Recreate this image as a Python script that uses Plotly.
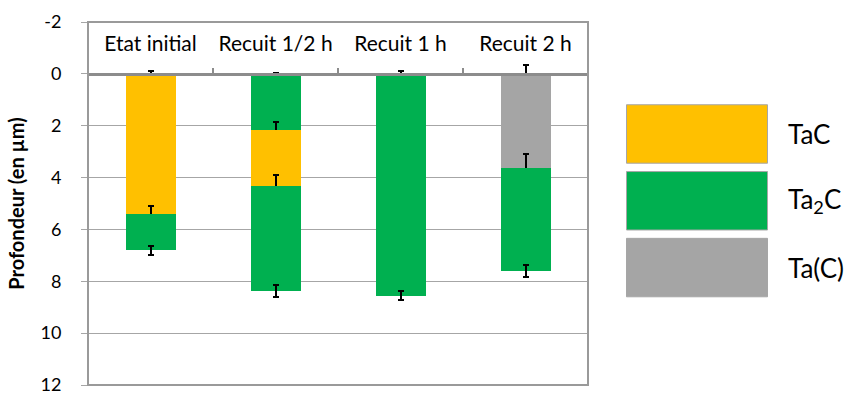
import plotly.graph_objects as go

# Categories (samples) and layer stack, from surface downwards
categories = ["Etat initial", "Recuit 1/2 h", "Recuit 1 h", "Recuit 2 h"]

# thickness of each successive layer (µm); None = no layer
layer1 = [5.40, 2.17, 8.55, 3.64]
layer2 = [1.41, 2.14, None, 3.98]
layer3 = [None, 4.05, None, None]

# phase of each layer
phase1 = ["TaC", "Ta2C", "Ta2C", "Ta(C)"]
phase2 = ["Ta2C", "TaC", None, "Ta2C"]
phase3 = [None, "Ta2C", None, None]

# error on each interface depth (surface first)
err_surface = [0.10, 0.05, 0.12, 0.35]
err1 = [0.31, 0.32, 0.19, 0.54]
err2 = [0.17, 0.40, None, 0.23]
err3 = [None, 0.23, None, None]

# depth axis ticks
depth_ticks = [-2, 0, 2, 4, 6, 8, 10, 12]
depth_labels = ["-2", "0", "2", "4", "6", "8", "10", "12"]

phases = ["TaC", "Ta2C", "Ta(C)"]
phase_labels = ["TaC", "Ta<sub>2</sub>C", "Ta(C)"]
colors = {"TaC": "#FFC000", "Ta2C": "#00B050", "Ta(C)": "#A5A5A5"}

FONT = "Lato, 'Open Sans', sans-serif"

fig = go.Figure()


def add_layer(values, phase, errs):
    fig.add_trace(go.Bar(
        x=categories,
        y=values,
        width=0.4,
        marker=dict(color=[colors.get(p, "rgba(0,0,0,0)") for p in phase],
                    line=dict(width=0)),
        error_y=dict(type="data", array=errs, color="black",
                     thickness=2, width=3, visible=True),
        showlegend=False,
        hoverinfo="skip",
    ))


# zero-thickness trace to carry the error bars at the surface
add_layer([0, 0, 0, 0], [None] * 4, err_surface)
add_layer(layer1, phase1, err1)
add_layer(layer2, phase2, err2)
add_layer(layer3, phase3, err3)

ymin, ymax = depth_ticks[0], depth_ticks[-1]

fig.update_layout(
    width=850, height=394,
    margin=dict(l=88, r=262, t=22, b=9),
    barmode="stack",
    plot_bgcolor="white",
    paper_bgcolor="white",
    font=dict(family=FONT, size=18, color="#000000"),
    xaxis=dict(
        type="category",
        range=[-0.5, len(categories) - 0.5],
        anchor="free",
        position=(ymax - 0) / (ymax - ymin),
        side="top",
        tickson="boundaries",
        ticks="outside",
        ticklen=5,
        tickwidth=2,
        tickcolor="#8c8c8c",
        showline=True,
        linewidth=3,
        linecolor="#8c8c8c",
        showgrid=False,
        ticklabelstandoff=13,
        tickfont=dict(family=FONT, size=21),
        automargin=False,
    ),
    yaxis=dict(
        range=[ymax, ymin],
        tickmode="array",
        tickvals=depth_ticks,
        ticktext=depth_labels,
        showgrid=True,
        gridcolor="#a6a6a6",
        gridwidth=1,
        zeroline=False,
        ticks="outside",
        ticklen=6,
        tickcolor="#a6a6a6",
        ticklabelstandoff=16,
        ticklabeloverflow="allow",
        tickfont=dict(family=FONT, size=18),
        title=dict(text="<b>Profondeur (en µm)</b>",
                   font=dict(family=FONT, size=20), standoff=10),
        automargin=False,
    ),
)

# plot border
fig.add_shape(type="rect", xref="x domain", yref="y domain",
              x0=0, x1=1, y0=0, y1=1,
              line=dict(color="#9a9a9a", width=2), layer="above")

# legend drawn as big boxes on the right
box_h = 0.161
box_gap = 0.023
top = 0.772
for i, (ph, lab) in enumerate(zip(phases, phase_labels)):
    y1 = top - i * (box_h + box_gap)
    y0 = y1 - box_h
    fig.add_shape(type="rect", xref="paper", yref="paper",
                  x0=1.077, x1=1.359, y0=y0, y1=y1,
                  fillcolor=colors[ph], line=dict(color="#a6a6a6", width=1))
    fig.add_annotation(xref="paper", yref="paper", x=1.396, y=(y0 + y1) / 2,
                       text=lab, showarrow=False, xanchor="left",
                       yanchor="middle",
                       font=dict(family=FONT, size=26, color="#000000"))

# the page body has a default 8px margin; drop it so the figure fills the window
fig.write_html("out.html", config={"displayModeBar": False},
               post_script="document.body.style.margin='0';")
